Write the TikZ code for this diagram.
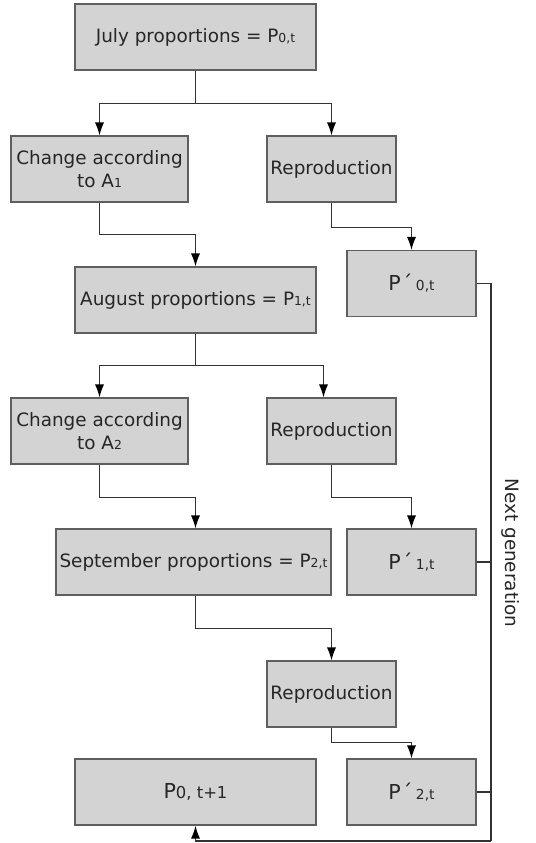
\documentclass[tikz,border=0pt]{standalone}
\usepackage{fontspec}
\setmainfont{DejaVu Sans}
\usetikzlibrary{arrows.meta}
\definecolor{boxgray}{RGB}{211,211,211}
\definecolor{edgegray}{RGB}{95,95,95}
\definecolor{linegray}{RGB}{50,50,50}
\newcommand{\ix}[1]{{\fontsize{6.2}{7}\selectfont #1}}
\newcommand{\pix}[1]{{\fontsize{6.9}{8}\selectfont #1}}

\begin{document}
\begin{tikzpicture}[x=0.5pt,y=-0.5pt,
  every node/.style={draw=edgegray,fill=boxgray,line width=0.6pt,inner sep=0pt,
    minimum height=33pt,align=center,text=black!85,font=\fontsize{9.2}{11.5}\selectfont},
  pbox/.style={minimum width=64.5pt,font=\fontsize{10.3}{12}\selectfont},
  conn/.style={draw=linegray,line width=0.6pt},
  arr/.style={-{Latex[length=6.5pt,width=4.6pt,color=black]}}]
\useasboundingbox (0,0) rectangle (536,843);

\node[minimum width=120.5pt] (jul) at (195.5,37) {July proportions = P\ix{0,t}};
\node[minimum width=88.5pt] (chg1) at (99.5,169) {Change according\\to A\ix{1}};
\node[minimum width=64.5pt] (rep1) at (331.5,169) {Reproduction};
\node[pbox] (pp0) at (411.5,283.5) {P\kern0.6pt´\kern1.8pt\pix{0,t}};

\node[minimum width=120.5pt] (aug) at (195.5,300) {August proportions = P\ix{1,t}};
\node[minimum width=88.5pt] (chg2) at (99.5,431) {Change according\\to A\ix{2}};
\node[minimum width=64.5pt] (rep2) at (331.5,431) {Reproduction};
\node[pbox] (pp1) at (411.5,562) {P\kern0.6pt´\kern1.8pt\pix{1,t}};

\node[minimum width=137.5pt] (sep) at (193.5,562) {September proportions = P\ix{2,t}};
\node[minimum width=64.5pt] (rep3) at (331.5,694) {Reproduction};
\node[minimum width=120.5pt,font=\fontsize{10.3}{12}\selectfont] (pnext) at (195.5,792) {P{\fontsize{8.2}{10}\selectfont 0, t+1}};
\node[pbox] (pp2) at (411.5,792) {P\kern0.6pt´\kern1.8pt\pix{2,t}};

\node[draw=none,fill=none,rotate=-90] (genlabel) at (511,553) {Next generation};
\coordinate (gen) at (491,841);

% July
\draw[conn,arr] (jul.south) -- ++(0,33) -| (chg1.north);
\draw[conn,arr] (jul.south) -- ++(0,33) -| (rep1.north);
\draw[conn,arr] (chg1.south) -- ++(0,32) -| (aug.north);
\draw[conn,arr] (rep1.south) -- ++(0,25) -| (pp0.north);
% August
\draw[conn,arr] (aug.south) -- ++(0,32) -| (chg2.north);
\draw[conn,arr] (aug.south) -- ++(0,32) -| ([xshift=-4pt]rep2.north);
\draw[conn,arr] (chg2.south) -- ++(0,33) -| (sep.north -| aug.south);
\draw[conn,arr] (rep2.south) -- ++(0,33) -| (pp1.north);
% September
\draw[conn,arr] (sep.south -| aug.south) -- ++(0,33) -| (rep3.north);
\draw[conn,arr] (rep3.south) -- ++(0,15) -| (pp2.north);

% next generation
\draw[conn] (pp0.east) -| (gen);
\draw[conn] (pp1.east) -- (pp1.east -| gen);
\draw[conn] (pp2.east) -- (pp2.east -| gen);
\draw[conn,line width=0.8pt,arr] (gen) -| (pnext.south);
\end{tikzpicture}
\end{document}
